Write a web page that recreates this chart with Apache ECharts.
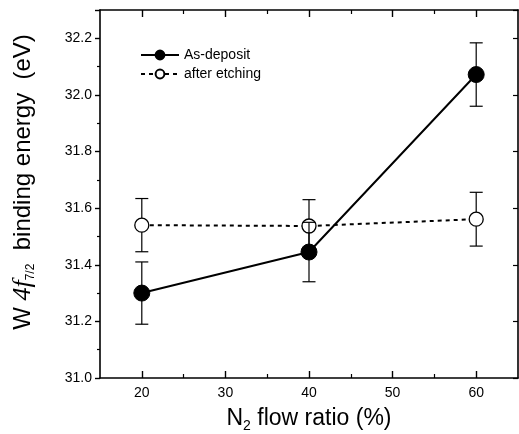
<!DOCTYPE html>
<html>
<head>
<meta charset="utf-8">
<script src="https://cdn.jsdelivr.net/npm/echarts@6/dist/echarts.min.js"></script>
<style>
  html, body { margin: 0; padding: 0; background: #fff; }
  #main { width: 519px; height: 434px; }
</style>
</head>
<body>
<div id="main"></div>
<script>
// N2 flow ratio (%)
var flowRatio = [20, 40, 60]
// W 4f7/2 binding energy (eV)
var asDeposit = [31.30, 31.445, 32.072]
var asDepositErr = [0.11, 0.105, 0.112]
var afterEtching = [31.54, 31.537, 31.561]
var afterEtchingErr = [0.094, 0.093, 0.095]

var xMajorTicks = [20, 30, 40, 50, 60]
var xMinorTicks = [25, 35, 45, 55]

var font = 'Liberation Sans'

function pairs (xs, ys) {
  return xs.map(function (x, i) { return [x, ys[i]] })
}
function errRows (xs, ys, es) {
  return xs.map(function (x, i) { return [x, ys[i] - es[i], ys[i] + es[i]] })
}

function renderErr (params, api) {
  var x = api.value(0)
  var lo = api.coord([x, api.value(1)])
  var hi = api.coord([x, api.value(2)])
  var w = 6.5
  var style = { stroke: '#000', lineWidth: 1.2 }
  return {
    type: 'group',
    children: [
      { type: 'line', shape: { x1: lo[0], y1: lo[1], x2: hi[0], y2: hi[1] }, style: style },
      { type: 'line', shape: { x1: lo[0] - w, y1: lo[1], x2: lo[0] + w, y2: lo[1] }, style: style },
      { type: 'line', shape: { x1: hi[0] - w, y1: hi[1], x2: hi[0] + w, y2: hi[1] }, style: style }
    ]
  }
}

var axisLine = { lineStyle: { color: '#000', width: 1.6 } }

var option = {
  animation: false,
  backgroundColor: '#fff',
  grid: { left: 100, right: 1, top: 10, bottom: 56, containLabel: false, outerBoundsMode: 'none' },
  legend: {
    orient: 'vertical',
    left: 135,
    top: 43,
    itemWidth: 38,
    itemHeight: 11,
    itemGap: 5,
    textStyle: { fontFamily: font, fontSize: 14, color: '#000' },
    data: ['As-deposit', 'after etching']
  },
  xAxis: [
    {
      type: 'value', min: 15, max: 65, position: 'bottom',
      axisLine: axisLine,
      axisTick: { customValues: xMajorTicks, inside: true, length: 7, lineStyle: { color: '#000', width: 1.4 } },
      axisLabel: { customValues: xMajorTicks, color: '#000', fontFamily: font, fontSize: 14, margin: 8 },
      splitLine: { show: false },
      name: '{n|N}{s|2}{n| flow ratio (%)}',
      nameLocation: 'middle',
      nameGap: 26,
      nameTextStyle: {
        rich: {
          n: { fontFamily: font, fontSize: 23, color: '#000' },
          s: { fontFamily: font, fontSize: 14, color: '#000', verticalAlign: 'bottom', padding: [15, 0, 0, 0] }
        }
      }
    },
    {
      type: 'value', min: 15, max: 65, position: 'bottom',
      axisLine: { show: false },
      axisTick: { customValues: xMinorTicks, inside: true, length: 4, lineStyle: { color: '#000', width: 1.2 } },
      axisLabel: { show: false },
      splitLine: { show: false }
    },
    {
      type: 'value', min: 15, max: 65, position: 'top',
      axisLine: axisLine,
      axisTick: { customValues: xMajorTicks, inside: true, length: 7, lineStyle: { color: '#000', width: 1.4 } },
      axisLabel: { show: false },
      splitLine: { show: false }
    },
    {
      type: 'value', min: 15, max: 65, position: 'top',
      axisLine: { show: false },
      axisTick: { customValues: xMinorTicks, inside: true, length: 4, lineStyle: { color: '#000', width: 1.2 } },
      axisLabel: { show: false },
      splitLine: { show: false }
    }
  ],
  yAxis: [
    {
      type: 'value', min: 31.0, max: 32.3, interval: 0.2, position: 'left',
      axisLine: axisLine,
      axisTick: { length: 5, lineStyle: { color: '#000', width: 1.4 } },
      minorTick: { show: true, splitNumber: 2, length: 3, lineStyle: { color: '#000', width: 1.2 } },
      axisLabel: {
        color: '#000', fontFamily: font, fontSize: 14, margin: 8, showMaxLabel: false,
        formatter: function (v) { return v.toFixed(1) }
      },
      splitLine: { show: false },
      minorSplitLine: { show: false },
      name: '{n|W }{i|4f}{s|7/2}{n|  binding energy  (eV)}',
      nameLocation: 'middle',
      nameGap: 63,
      nameTextStyle: {
        padding: [0, 0, 0, 24],
        rich: {
          n: { fontFamily: font, fontSize: 24, color: '#000' },
          i: { fontFamily: 'Liberation Serif', fontStyle: 'italic', fontSize: 26, color: '#000' },
          s: { fontFamily: font, fontSize: 12, color: '#000', verticalAlign: 'bottom', padding: [16, 0, 0, 0] }
        }
      }
    },
    {
      type: 'value', min: 31.0, max: 32.3, interval: 0.2, position: 'right',
      axisLine: axisLine,
      axisTick: { inside: true, length: 5, lineStyle: { color: '#000', width: 1.2 } },
      axisLabel: { show: false },
      splitLine: { show: false }
    }
  ],
  series: [
    {
      type: 'custom', name: 'etchErr', renderItem: renderErr, z: 1,
      encode: { x: 0, y: [1, 2] },
      data: errRows(flowRatio, afterEtching, afterEtchingErr)
    },
    {
      type: 'line', name: 'after etching', z: 2,
      data: pairs(flowRatio, afterEtching),
      symbol: 'circle', symbolSize: 14, showAllSymbol: true,
      lineStyle: { color: '#000', width: 2, type: [4, 4] },
      itemStyle: { color: '#fff', borderColor: '#000', borderWidth: 1.3 }
    },
    {
      type: 'custom', name: 'depErr', renderItem: renderErr, z: 3,
      encode: { x: 0, y: [1, 2] },
      data: errRows(flowRatio, asDeposit, asDepositErr)
    },
    {
      type: 'line', name: 'As-deposit', z: 4,
      data: pairs(flowRatio, asDeposit),
      symbol: 'circle', symbolSize: 16, showAllSymbol: true,
      lineStyle: { color: '#000', width: 2 },
      itemStyle: { color: '#000', borderColor: '#000', borderWidth: 1 }
    }
  ]
}

var myChart = echarts.init(document.getElementById('main'))
myChart.setOption(option)
</script>
</body>
</html>
